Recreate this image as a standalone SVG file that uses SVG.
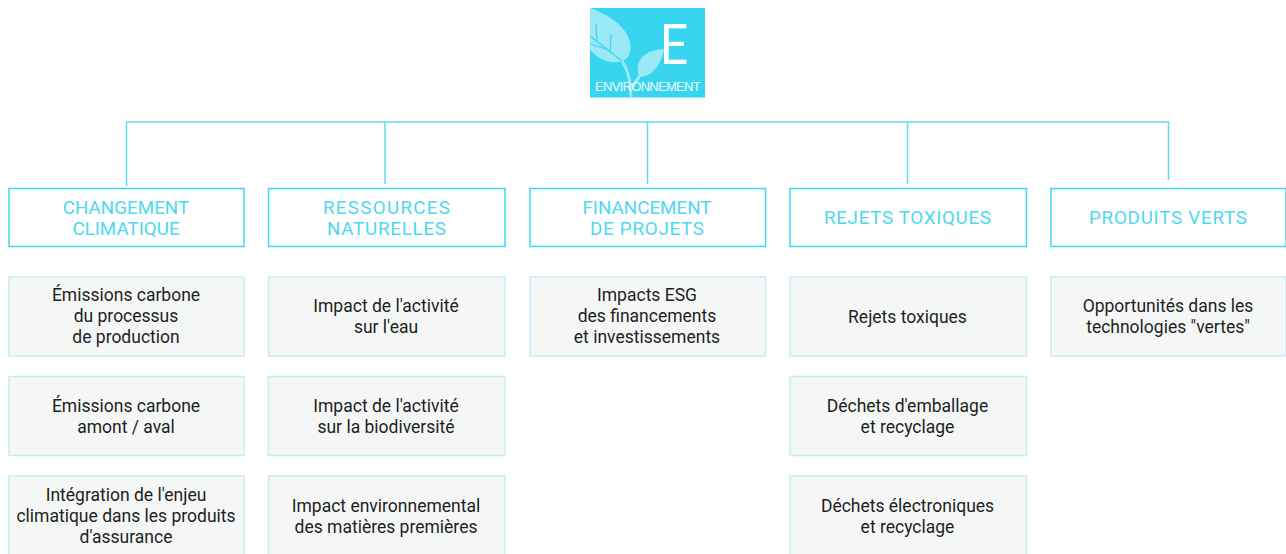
<svg xmlns="http://www.w3.org/2000/svg" width="1286" height="554" viewBox="0 0 1286 554">
<style>
text{font-family:Roboto,"Liberation Sans",sans-serif;text-anchor:middle}
.h rect{fill:#fff;stroke:#3fd8f2;stroke-width:1.5}
.h text{fill:#4fd8f0;font-size:18.800px}
.s rect{fill:#f5f7f7;stroke:#c2eef6;stroke-width:1.5}
.s text{fill:#1e1e1e;font-size:17.500px}
.c{fill:none;stroke:#5fdcf2;stroke-width:1.5}
.leaf{fill:#9be8f6}
.stem{fill:none;stroke:#9be8f6;stroke-width:3}
.vein{fill:none;stroke:#38d5f0;stroke-width:1.200}
</style>
<rect width="1286" height="554" fill="#fff"/>
<g id="root">
<rect x="590" y="8" width="115" height="89.500" fill="#38d5f0"/>
<path class="leaf" d="M590 8C608 14 630 28 630.500 46C631 54 627 60 622 61C612 64 602 62 590 50Z"/>
<path class="vein" d="M590 36L622 61M590 44L606 49M596 24L597 41M611 34L610 52"/>
<path class="stem" d="M622 61C628 70 631 82 631 97"/>
<path class="leaf" d="M664 49C650 50 640 55 638 65C637 70 638 74 640 77C654 76 662 62 664 49Z"/>
<path class="stem" d="M631 90C635 82 638 78 644 70" stroke-width="2"/>
<text transform="translate(660 64) scale(.88 1)" font-size="56" fill="#fff" style="text-anchor:start">E</text>
<text x="647.500" y="90.500" font-size="13" fill="#eefcfe" letter-spacing="-0.700" style="font-family:'Liberation Sans',sans-serif">ENVIRONNEMENT</text>
</g>
<g id="connectors" class="c">
<path d="M126.500 186V122H1168.500V180M385 122V184M647.500 122V184M907.500 122V184"/>
</g>
<g id="h1" class="h"><rect x="9" y="188.500" width="235" height="58"/><text x="126" y="213.500">CHANGEMENT</text><text x="126" y="234.500">CLIMATIQUE</text></g>
<g id="h2" class="h"><rect x="268.500" y="188.500" width="236.500" height="58"/><text x="386.500" y="213.500" textLength="127">RESSOURCES</text><text x="386.500" y="234.500" textLength="119">NATURELLES</text></g>
<g id="h3" class="h"><rect x="530" y="188.500" width="235.500" height="58"/><text x="647" y="213.500">FINANCEMENT</text><text x="647" y="234.500" textLength="114">DE PROJETS</text></g>
<g id="h4" class="h"><rect x="790" y="188.500" width="236.500" height="58"/><text x="907.500" y="223.500" textLength="167">REJETS TOXIQUES</text></g>
<g id="h5" class="h"><rect x="1051" y="188.500" width="235" height="58"/><text x="1168" y="223.500" textLength="158">PRODUITS VERTS</text></g>
<g id="s1a" class="s"><rect x="9" y="277" width="235" height="79"/><text x="126" y="300.500">Émissions carbone</text><text x="126" y="321.500">du processus</text><text x="126" y="342.500">de production</text></g>
<g id="s1b" class="s"><rect x="9" y="376.500" width="235" height="79"/><text x="126" y="411.500">Émissions carbone</text><text x="126" y="432.500">amont / aval</text></g>
<g id="s1c" class="s"><rect x="9" y="476" width="235" height="79"/><text x="126" y="500.500">Intégration de l'enjeu</text><text x="126" y="521.500">climatique dans les produits</text><text x="126" y="542.500">d'assurance</text></g>
<g id="s2a" class="s"><rect x="268.500" y="277" width="236.500" height="79"/><text x="386" y="311.500">Impact de l'activité</text><text x="386" y="332.500">sur l'eau</text></g>
<g id="s2b" class="s"><rect x="268.500" y="376.500" width="236.500" height="79"/><text x="386" y="411.500">Impact de l'activité</text><text x="386" y="432.500">sur la biodiversité</text></g>
<g id="s2c" class="s"><rect x="268.500" y="476" width="236.500" height="79"/><text x="386" y="511.500">Impact environnemental</text><text x="386" y="532.500">des matières premières</text></g>
<g id="s3a" class="s"><rect x="530" y="277" width="235.500" height="79"/><text x="647" y="300.500">Impacts ESG</text><text x="647" y="321.500">des financements</text><text x="647" y="342.500">et investissements</text></g>
<g id="s4a" class="s"><rect x="790" y="277" width="236.500" height="79"/><text x="907.500" y="323">Rejets toxiques</text></g>
<g id="s4b" class="s"><rect x="790" y="376.500" width="236.500" height="79"/><text x="907.500" y="411.500">Déchets d'emballage</text><text x="907.500" y="432.500">et recyclage</text></g>
<g id="s4c" class="s"><rect x="790" y="476" width="236.500" height="79"/><text x="907.500" y="511.500">Déchets électroniques</text><text x="907.500" y="532.500">et recyclage</text></g>
<g id="s5a" class="s"><rect x="1051" y="277" width="235" height="79"/><text x="1168" y="311.500">Opportunités dans les</text><text x="1168" y="332.500">technologies "vertes"</text></g>
</svg>
